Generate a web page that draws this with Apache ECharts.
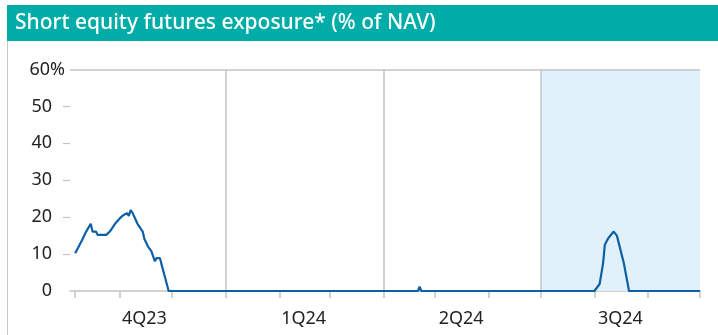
<!DOCTYPE html>
<html>
<head>
<meta charset="utf-8">
<script src="https://cdn.jsdelivr.net/npm/echarts@6/dist/echarts.min.js"></script>
<style>
  html, body { margin: 0; padding: 0; background: #ffffff; }
  #chart { width: 718px; height: 335px; }
</style>
</head>
<body>
<div id="chart"></div>
<script>
// Horizontal extent of the time axis
const axisStart = '2023-10-03';
const axisEnd = '2024-10-01';

// Short equity futures exposure, % of NAV
const obsDates = [
  '2023-10-06', '2023-10-10', '2023-10-12', '2023-10-13', '2023-10-15', '2023-10-16',
  '2023-10-18', '2023-10-19', '2023-10-24', '2023-10-26', '2023-10-27', '2023-10-29',
  '2023-11-01', '2023-11-03', '2023-11-04', '2023-11-05', '2023-11-06', '2023-11-07',
  '2023-11-08', '2023-11-09', '2023-11-11', '2023-11-12', '2023-11-14', '2023-11-15',
  '2023-11-17', '2023-11-18', '2023-11-19', '2023-11-21', '2023-11-22', '2023-11-24',
  '2023-11-25', '2023-11-27', '2023-11-29',
  '2024-04-21', '2024-04-22', '2024-04-23',
  '2024-08-01', '2024-08-04', '2024-08-06', '2024-08-07', '2024-08-09', '2024-08-12',
  '2024-08-14', '2024-08-15', '2024-08-18', '2024-08-20', '2024-08-21',
  '2024-10-01'
];
const exposurePct = [
  10.2, 13.8, 15.8, 16.1, 18.2, 16.1,
  16.1, 15.2, 15.2, 16.1, 16.1, 18.2,
  19.8, 20.6, 20.3, 21.1, 20.3, 21.9,
  21.3, 21.1, 18.2, 18.0, 16.1, 14.1,
  12.1, 11.9, 10.8, 8.1, 8.9, 8.9,
  7.0, 3.5, 0,
  0, 1.2, 0,
  0, 1.9, 7.5, 12.5, 14.3, 16.1,
  15.0, 13.1, 7.5, 2.5, 0,
  0
];

// Axis furniture
const monthTicks = [
  '2023-10-06', '2023-11-01', '2023-12-01', '2024-01-01', '2024-02-01', '2024-03-01',
  '2024-04-01', '2024-05-01', '2024-06-01', '2024-07-01', '2024-08-01', '2024-09-01',
  '2024-10-01'
];
const quarterStarts = ['2024-01-01', '2024-04-01', '2024-07-01'];
const quarterLabels = ['4Q23', '1Q24', '2Q24', '3Q24'];
const quarterMids = ['2023-11-15', '2024-02-15', '2024-05-16', '2024-08-16'];
const shadeFrom = '2024-07-01';
const yTickValues = [10, 20, 30, 40, 50];

const DAY_MS = 86400000;
const dayOf = d => (Date.parse(d) - Date.parse(axisStart)) / DAY_MS;

const quarterMidDays = quarterMids.map(dayOf);
const seriesData = obsDates.map((d, i) => [dayOf(d), exposurePct[i]]);

const FONT = '"Noto Sans", "Open Sans", sans-serif';
const GRID = '#c4c4c4';
const INK = '#222222';

const chart = echarts.init(document.getElementById('chart'), null, { renderer: 'canvas' });

chart.setOption({
  animation: false,
  backgroundColor: '#ffffff',
  graphic: [
    {
      type: 'rect', left: 7, top: 5, z: 10,
      shape: { width: 711, height: 36 },
      style: { fill: '#00aca7' }
    },
    {
      type: 'text', x: 15, y: 23, z: 11,
      style: {
        text: 'Short equity futures exposure* (% of NAV)',
        fill: '#ffffff',
        font: '500 21px ' + FONT,
        verticalAlign: 'middle'
      }
    },
    {
      type: 'line', z: 10,
      shape: { x1: 7.5, y1: 41, x2: 7.5, y2: 335 },
      style: { stroke: '#c8c8c8', lineWidth: 1 }
    }
  ],
  grid: { left: 70, right: 18, top: 69.5, bottom: 44, containLabel: false },
  xAxis: {
    type: 'value',
    min: 0,
    max: dayOf(axisEnd),
    axisLine: { show: true, lineStyle: { color: GRID, width: 1.5 } },
    axisTick: {
      show: true,
      customValues: monthTicks.map(dayOf),
      length: 7,
      lineStyle: { color: GRID, width: 1.5 }
    },
    axisLabel: {
      customValues: quarterMidDays,
      margin: 19,
      color: INK,
      fontFamily: FONT,
      fontSize: 18,
      formatter: v => {
        const i = quarterMidDays.findIndex(m => Math.abs(m - v) < 0.5);
        return i >= 0 ? quarterLabels[i] : '';
      }
    },
    splitLine: { show: false }
  },
  yAxis: {
    type: 'value',
    min: 0,
    max: 60,
    interval: 10,
    axisLine: { show: false },
    axisTick: {
      show: true,
      customValues: yTickValues,
      length: 7,
      lineStyle: { color: GRID, width: 1.2 }
    },
    axisLabel: {
      margin: 5,
      color: INK,
      fontFamily: FONT,
      fontSize: 18,
      formatter: v => (v === 60 ? '{t|60%}' : '{n|' + v + '}'),
      rich: {
        t: { fontFamily: FONT, fontSize: 18, color: INK },
        n: { fontFamily: FONT, fontSize: 18, color: INK, padding: [0, 13, 0, 0] }
      }
    },
    splitLine: { show: false }
  },
  series: [
    {
      type: 'line',
      data: seriesData,
      symbol: 'none',
      z: 5,
      lineStyle: { color: '#0d5fa6', width: 2.2 },
      itemStyle: { color: '#0d5fa6' },
      markArea: {
        silent: true,
        itemStyle: { color: '#e1f1fb' },
        data: [[{ xAxis: dayOf(shadeFrom) }, { xAxis: dayOf(axisEnd) }]]
      },
      markLine: {
        silent: true,
        symbol: ['none', 'none'],
        label: { show: false },
        lineStyle: { color: GRID, width: 1.5, type: 'solid' },
        data: quarterStarts.map(d => ({ xAxis: dayOf(d) })).concat([{ yAxis: 60 }])
      }
    }
  ]
});
</script>
</body>
</html>
